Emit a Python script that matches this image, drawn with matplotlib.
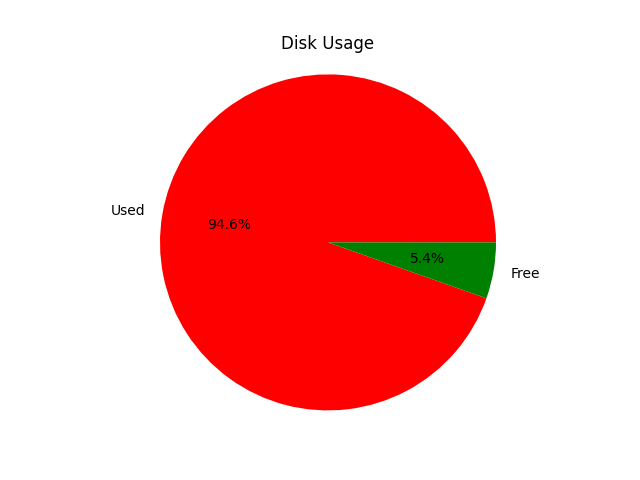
import matplotlib
matplotlib.use("Agg")
import matplotlib.pyplot as plt

# disk usage split (percent)
labels = ['Used', 'Free']
sizes = [94.6, 5.4]
colors = ['red', 'green']

fig, ax = plt.subplots(figsize=(6.4, 4.8), dpi=100)
ax.pie(sizes, labels=labels, colors=colors, autopct='%1.1f%%')
# the reference pie fills more of the axes than the current default
ax.set_xlim(-1.1, 1.1)
ax.set_ylim(-1.1, 1.1)
ax.set_title('Disk Usage')

fig.savefig('out.png')
